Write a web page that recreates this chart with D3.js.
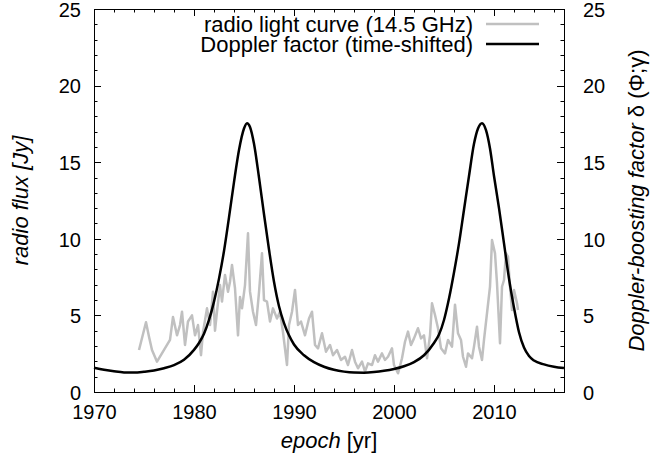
<!DOCTYPE html>
<html>
<head>
<meta charset="utf-8">
<script src="https://cdn.jsdelivr.net/npm/d3@7"></script>
<style>
  body { margin: 0; background: #fff; }
  text { font-family: "Liberation Sans", Arial, sans-serif; fill: #000; }
</style>
</head>
<body>
<div id="chart"></div>
<script>
// radio light curve (14.5 GHz)
const lcYears = [1974.5, 1975.2, 1975.5, 1975.8, 1976.3, 1977.6, 1977.9, 1978.3, 1978.6, 1978.8,
  1979.1, 1979.4, 1979.8, 1980.1, 1980.4, 1980.7, 1980.9, 1981.3, 1981.6, 1981.9,
  1982.1, 1982.3, 1982.6, 1982.8, 1983.1, 1983.4, 1983.6, 1983.8, 1984.1, 1984.4, 1984.6, 1984.8,
  1985.1, 1985.4, 1985.6, 1985.9, 1986.2, 1986.5, 1986.8, 1987.0, 1987.3, 1987.6,
  1987.9, 1988.3, 1988.6, 1988.9, 1989.3, 1989.5, 1989.8, 1990.1, 1990.4, 1990.7,
  1991.1, 1991.5, 1991.8, 1992.1, 1992.4, 1992.8, 1993.2, 1993.6, 1993.9, 1994.3,
  1994.7, 1995.1, 1995.4, 1995.8, 1996.1, 1996.4, 1996.8, 1997.1, 1997.4, 1997.8,
  1998.1, 1998.4, 1998.8, 1999.1, 1999.4, 1999.8, 2000.0, 2000.4, 2000.8, 2001.1,
  2001.4, 2001.7, 2002.0, 2002.4, 2002.7, 2003.0, 2003.3, 2003.6, 2003.8, 2004.1,
  2004.4, 2004.7, 2005.1, 2005.4, 2005.8, 2006.1, 2006.4, 2006.7, 2006.9, 2007.2,
  2007.4, 2007.8, 2008.0, 2008.3, 2008.5, 2008.8, 2009.0, 2009.3, 2009.6, 2009.8,
  2010.1, 2010.3, 2010.6, 2010.8, 2011.0, 2011.2, 2011.4, 2011.6, 2011.8, 2012.0,
  2012.3, 2012.4];
const lcFlux = [2.74, 4.55, 3.6, 2.74, 1.98, 3.4, 4.9, 3.7, 4.37, 5.24,
  3.07, 4.6, 5.0, 3.7, 4.37, 2.4, 3.9, 5.46, 4.37, 6.55,
  4.0, 5.24, 6.98, 5.9, 7.64, 6.55, 7.2, 8.29, 6.77, 3.7, 6.2, 5.46,
  6.98, 10.36, 6.55, 5.24, 4.37, 6.5, 9.05, 6.0, 5.9, 4.6,
  5.46, 4.8, 5.24, 3.9, 1.76, 4.37, 5.24, 6.66, 4.37, 4.6,
  3.7, 4.8, 5.24, 3.07, 2.85, 3.83, 2.63, 3.07, 2.4, 2.74,
  2.09, 2.3, 1.76, 2.74, 1.98, 1.55, 1.98, 1.33, 1.87, 1.76,
  2.4, 1.98, 2.52, 2.09, 2.3, 2.85, 1.76, 1.22, 2.2, 3.28,
  3.94, 3.07, 3.5, 4.16, 3.5, 3.7, 2.2, 3.7, 5.79, 5.03,
  4.16, 2.85, 2.52, 3.4, 2.96, 5.7, 3.83, 3.4, 2.3, 1.65,
  2.52, 2.2, 2.96, 4.26, 2.96, 2.09, 3.4, 5.14, 6.87, 9.92,
  9.05, 7.1, 3.18, 6.87, 7.31, 9.05, 8.83, 6.87, 5.35, 6.66,
  5.79, 5.35];

// Doppler factor (time-shifted)
const dopYears = [1970, 1971, 1972, 1973, 1974, 1975, 1976, 1977, 1978, 1979,
  1980, 1980.5, 1981, 1981.5, 1982, 1982.5, 1983, 1983.5, 1984, 1984.5,
  1985, 1985.3, 1985.6, 1986, 1986.5, 1987, 1987.5, 1988, 1988.5, 1989,
  1989.5, 1990, 1991, 1992, 1993, 1994, 1995, 1996, 1997, 1998,
  1999, 2000, 2001, 2002, 2003, 2004, 2004.5, 2005, 2005.5, 2006,
  2006.5, 2007, 2007.5, 2008, 2008.4, 2008.8, 2009.2, 2009.6, 2010, 2010.5,
  2011, 2011.5, 2012, 2012.5, 2013, 2013.5, 2014, 2015, 2016, 2017];
const dopValues = [1.58, 1.45, 1.35, 1.28, 1.27, 1.32, 1.4, 1.55, 1.75, 2.1,
  2.75, 3.2, 3.8, 4.7, 5.9, 7.4, 9.2, 11.4, 13.7, 15.8,
  17.2, 17.55, 17.3, 16.2, 14.0, 11.6, 9.3, 7.2, 5.6, 4.5,
  3.7, 3.1, 2.4, 1.95, 1.65, 1.45, 1.33, 1.27, 1.26, 1.3,
  1.38, 1.5, 1.68, 1.95, 2.4, 3.2, 3.75, 4.7, 6.1, 7.8,
  9.7, 11.9, 14.1, 16.2, 17.2, 17.55, 17.1, 15.9, 14.1, 12.0,
  9.7, 7.4, 5.5, 3.9, 2.9, 2.35, 2.05, 1.8, 1.65, 1.56];

const xTicks = [1970, 1980, 1990, 2000, 2010];
const yTicks = [0, 5, 10, 15, 20, 25];
const seriesNames = ["radio light curve (14.5 GHz)", "Doppler factor (time-shifted)"];
const seriesColors = ["#c0c0c0", "#000000"];

const width = 670, height = 462;
const margin = { top: 9, right: 106, bottom: 70, left: 94 };
const iw = width - margin.left - margin.right;
const ih = height - margin.top - margin.bottom;

const svg = d3.select("#chart").append("svg")
  .attr("width", width).attr("height", height);
const g = svg.append("g").attr("transform", `translate(${margin.left},${margin.top})`);

const x = d3.scaleLinear().domain([1970, 2017]).range([0, iw]);
const y = d3.scaleLinear().domain([0, 25]).range([ih, 0]);
const y2 = d3.scaleLinear().domain([0, 25]).range([ih, 0]);

// inward ticks on all four sides (gnuplot style)
const xMinor = d3.range(1970, 2017.01, 2);
const yMinor = d3.range(0, 25.01, 1);
const ticks = g.append("g").attr("stroke", "#000").attr("stroke-width", 1);
xMinor.forEach((v) => {
  const len = v % 10 === 0 ? 7 : 3.5;
  const px = Math.round(x(v)) + 0.5;
  ticks.append("line").attr("x1", px).attr("x2", px).attr("y1", ih).attr("y2", ih - len);
  ticks.append("line").attr("x1", px).attr("x2", px).attr("y1", 0).attr("y2", len);
});
yMinor.forEach((v) => {
  const len = v % 5 === 0 ? 7 : 3.5;
  const py = Math.round(y(v)) + 0.5;
  ticks.append("line").attr("x1", 0).attr("x2", len).attr("y1", py).attr("y2", py);
  ticks.append("line").attr("x1", iw).attr("x2", iw - len).attr("y1", py).attr("y2", py);
});

// tick labels through d3 axes, tick marks hidden
const xAxis = g.append("g").attr("transform", `translate(0,${ih})`)
  .call(d3.axisBottom(x).tickValues(xTicks).tickFormat(d3.format("d")).tickSize(0).tickPadding(13));
const yAxis = g.append("g")
  .call(d3.axisLeft(y).tickValues(yTicks).tickSize(0).tickPadding(13));
const y2Axis = g.append("g").attr("transform", `translate(${iw},0)`)
  .call(d3.axisRight(y2).tickValues(yTicks).tickSize(0).tickPadding(19));
[xAxis, yAxis, y2Axis].forEach((a) => {
  a.select(".domain").remove();
  a.selectAll("text").style("font-size", "20px").attr("fill", "#000")
    .style("font-family", '"Liberation Sans", Arial, sans-serif');
});
yAxis.selectAll("text").attr("dy", "0.36em");
y2Axis.selectAll("text").attr("dy", "0.36em");

// curves
const lcData = lcYears.map((yr, i) => ({ yr, v: lcFlux[i] }));
const dopData = dopYears.map((yr, i) => ({ yr, v: dopValues[i] }));

g.append("path").datum(lcData)
  .attr("fill", "none").attr("stroke", seriesColors[0]).attr("stroke-width", 2.5)
  .attr("stroke-linejoin", "round")
  .attr("d", d3.line().x((d) => x(d.yr)).y((d) => y(d.v)));

g.append("path").datum(dopData)
  .attr("fill", "none").attr("stroke", seriesColors[1]).attr("stroke-width", 2.5)
  .attr("d", d3.line().curve(d3.curveMonotoneX).x((d) => x(d.yr)).y((d) => y2(d.v)));

// frame
g.append("rect").attr("x", 0.5).attr("y", 0.5).attr("width", iw).attr("height", ih)
  .attr("fill", "none").attr("stroke", "#000").attr("stroke-width", 1);

// legend
const legend = g.append("g");
seriesNames.forEach((name, i) => {
  const ly = 15 + i * 20;
  legend.append("text").attr("x", 379).attr("y", ly).attr("dy", "0.35em")
    .attr("text-anchor", "end").style("font-size", "22px").text(name);
  legend.append("line").attr("x1", 392).attr("x2", 445).attr("y1", ly).attr("y2", ly)
    .attr("stroke", seriesColors[i]).attr("stroke-width", 2.5);
});

// axis titles
svg.append("text")
  .attr("transform", `translate(28,${margin.top + ih / 2}) rotate(-90)`)
  .attr("text-anchor", "middle").style("font-size", "22px").style("font-style", "italic")
  .text("radio flux [Jy]");

const xt = svg.append("text").attr("x", margin.left + iw / 2).attr("y", 448)
  .attr("text-anchor", "middle").style("font-size", "22px");
xt.append("tspan").style("font-style", "italic").text("epoch");
xt.append("tspan").text(" [yr]");

const rt = svg.append("text")
  .attr("transform", `translate(644,${margin.top + ih / 2}) rotate(-90)`)
  .attr("text-anchor", "middle").style("font-size", "22px");
rt.append("tspan").style("font-style", "italic").text("Doppler-boosting factor ");
rt.append("tspan").text("δ (Φ;γ)");
</script>
</body>
</html>
